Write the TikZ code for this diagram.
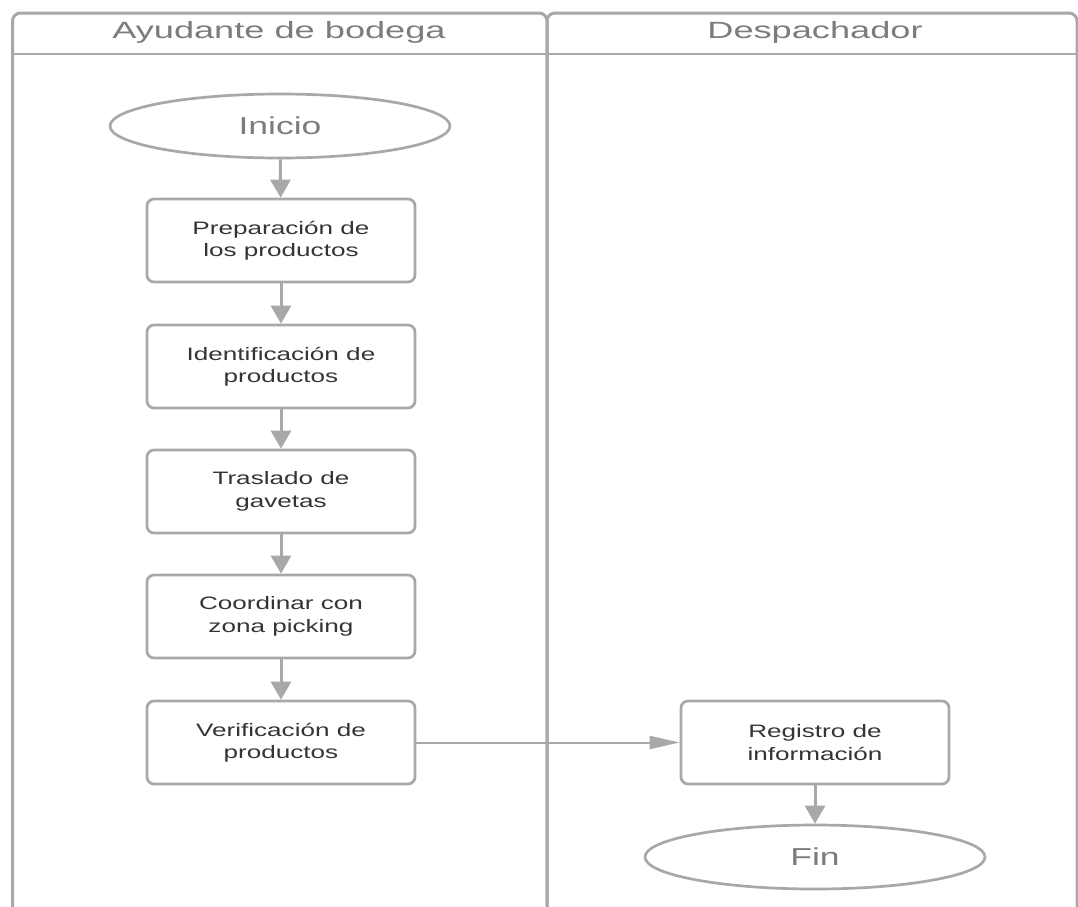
\documentclass[tikz,border=0pt]{standalone}
\usepackage{fontspec}
\setmainfont{Liberation Sans}
\newfontfamily\stepfont[FakeStretch=1.45]{Liberation Sans}
\newfontfamily\headfont[FakeStretch=1.54]{Liberation Sans}
\newfontfamily\termfont[FakeStretch=1.45]{Liberation Sans}
\usetikzlibrary{shapes.geometric,arrows.meta}
\definecolor{edgegray}{HTML}{A8A8A8}
\definecolor{labelgray}{HTML}{7C7C7C}
\definecolor{textdark}{HTML}{343434}

\tikzset{
  lane/.style={draw=edgegray, line width=3pt, rounded corners=8pt},
  lanetitle/.style={text=labelgray, font=\headfont\fontsize{23.5}{27}\selectfont},
  stepbox/.style={draw=edgegray, line width=2.7pt, rounded corners=7pt,
    minimum width=268pt, minimum height=83pt, align=center, inner sep=0pt,
    text=textdark, font=\stepfont\fontsize{18}{22.5}\selectfont},
  terminal/.style={ellipse, draw=edgegray, line width=2.7pt, inner sep=0pt,
    minimum width=340pt, minimum height=64pt,
    text=labelgray, font=\termfont\fontsize{24.5}{28}\selectfont},
  vflow/.style={draw=edgegray, line width=3pt,
    -{Triangle[length=18pt,width=20pt]}},
  hflow/.style={draw=edgegray, line width=2pt,
    -{Triangle[length=30pt,width=13pt]}}
}

\begin{document}
\begin{tikzpicture}[x=1pt,y=-1pt]
\useasboundingbox (0,0) rectangle (1078,906);

% swimlanes (open at the bottom)
\begin{scope}
  \clip (0,0) rectangle (1078,906);
  \draw[lane] (12.5,13) rectangle (547,940);
  \draw[lane] (547,13) rectangle (1077,940);
  \draw[draw=edgegray, line width=2.6pt] (12.5,54) -- (1077,54);
\end{scope}
\node[lanetitle] (laneA) at (279,32) {Ayudante de bodega};
\node[lanetitle] (laneB) at (815,32) {Despachador};

% process steps
\node[terminal] (inicio) at (280,126) {Inicio};
\node[stepbox] (prep)  at (281,240.5) {Preparación de\\los productos};
\node[stepbox] (ident) at (281,366.5) {Identificación de\\productos};
\node[stepbox] (tras)  at (281,491.5) {Traslado de\\gavetas};
\node[stepbox] (coord) at (281,616.5) {Coordinar con\\zona picking};
\node[stepbox] (verif) at (281,742.5) {Verificación de\\productos};
\node[stepbox] (reg) at (815,742.5) {Registro de\\información};
\node[terminal] (fin) at (815,857) {Fin};

% connectors
\draw[vflow] (inicio) -- (prep);
\draw[vflow] (prep) -- (ident);
\draw[vflow] (ident) -- (tras);
\draw[vflow] (tras) -- (coord);
\draw[vflow] (coord) -- (verif);
\draw[hflow] (verif) -- (reg);
\draw[vflow] (reg) -- (fin);
\end{tikzpicture}
\end{document}
